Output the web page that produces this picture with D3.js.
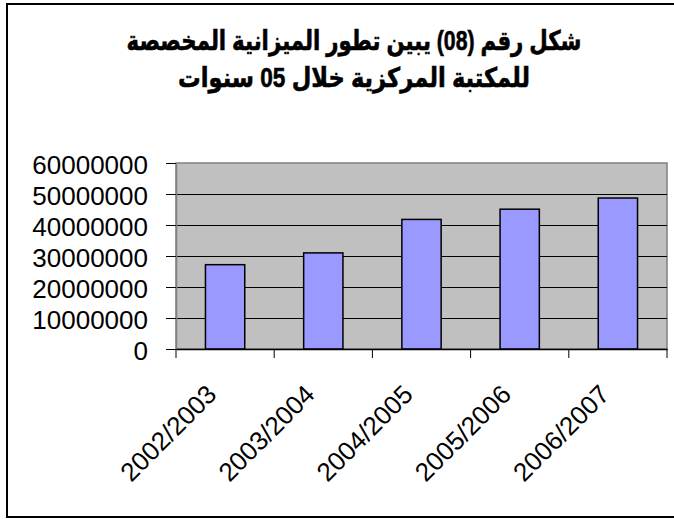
<!DOCTYPE html>
<html>
<head>
<meta charset="utf-8">
<script src="https://cdn.jsdelivr.net/npm/d3@7"></script>
<style>
  html, body { margin: 0; padding: 0; background: #fff; }
  svg { display: block; }
  text { font-family: Arial, "Liberation Sans", "DejaVu Sans", sans-serif; fill: #000; }
</style>
</head>
<body>
<svg id="chart" width="674" height="519"></svg>
<script>
// ---- data ----
const titleLines = ["شكل رقم (08) يبين تطور الميزانية المخصصة", "للمكتبة المركزية خلال 05 سنوات"];
const categories = ["2002/2003", "2003/2004", "2004/2005", "2005/2006", "2006/2007"];
const budgets = [27200000, 31000000, 41800000, 45100000, 48700000];
const yTicks = [0, 10000000, 20000000, 30000000, 40000000, 50000000, 60000000];

// ---- layout ----
const plot = { left: 176, right: 667, top: 163, bottom: 349 };
const svg = d3.select("#chart");

// outer frame (right side runs off the picture)
svg.append("rect")
  .attr("x", 7).attr("y", 4).attr("width", 720).attr("height", 513)
  .attr("fill", "#fff").attr("stroke", "#000").attr("stroke-width", 2);

// title
const titleG = svg.append("g");
const titleY = [50, 87];
const titleW = [455, 352];
titleLines.forEach((t, i) => {
  const tx = titleG.append("text")
    .attr("text-anchor", "middle")
    .attr("direction", "rtl")
    .attr("font-weight", "bold")
    .attr("font-size", 27)
    .attr("stroke", "#000").attr("stroke-width", 0.6)
    .text(t);
  const w = tx.node().getComputedTextLength() || 1;
  const s = titleW[i] / w;
  tx.attr("transform", `translate(354,${titleY[i]}) scale(${s},1)`);
});

// scales
const x = d3.scaleBand().domain(categories).range([plot.left, plot.right]).paddingInner(0).paddingOuter(0);
const y = d3.scaleLinear().domain([0, 60000000]).range([plot.bottom, plot.top]);

// plot background
svg.append("rect")
  .attr("x", plot.left).attr("y", plot.top)
  .attr("width", plot.right - plot.left).attr("height", plot.bottom - plot.top)
  .attr("fill", "#C0C0C0").attr("stroke", "#808080").attr("stroke-width", 1.5);

// gridlines
svg.append("g").selectAll("line").data(yTicks.filter(d => d > 0 && d < 60000000)).join("line")
  .attr("x1", plot.left).attr("x2", plot.right)
  .attr("y1", d => Math.round(y(d)) + 0.5).attr("y2", d => Math.round(y(d)) + 0.5)
  .attr("stroke", "#000").attr("stroke-width", 1);

// bars
const bw = x.bandwidth() * 0.4;
svg.append("g").selectAll("rect").data(budgets).join("rect")
  .attr("x", (d, i) => x(categories[i]) + (x.bandwidth() - bw) / 2)
  .attr("y", d => y(d))
  .attr("width", bw)
  .attr("height", d => y(0) - y(d))
  .attr("fill", "#9999FF").attr("stroke", "#000").attr("stroke-width", 1.5);

// y axis
const yAxis = svg.append("g").attr("transform", `translate(${plot.left},0)`)
  .call(d3.axisLeft(y).tickValues(yTicks).tickSize(10).tickSizeOuter(0).tickPadding(0).tickFormat(d3.format("d")));
yAxis.select(".domain").attr("stroke", "#808080").attr("stroke-width", 1.5);
yAxis.selectAll(".tick line").attr("stroke", "#000");
yAxis.selectAll(".tick text")
  .attr("font-size", 26).attr("font-family", null)
  .attr("x", -28).attr("dy", null)
  .attr("text-anchor", "end").attr("dominant-baseline", "central")
  .attr("transform", "translate(0,1)");

// x axis
const xAxis = svg.append("g").attr("transform", `translate(0,${plot.bottom})`)
  .call(d3.axisBottom(x).tickSize(0).tickSizeOuter(0).tickFormat(d => d));
xAxis.select(".domain").attr("stroke", "#000").attr("stroke-width", 1.5);
// category boundary ticks
const bounds = categories.map(c => x(c)).concat([plot.right]);
xAxis.append("g").selectAll("line").data(bounds).join("line")
  .attr("x1", d => d).attr("x2", d => d).attr("y1", 0).attr("y2", 9)
  .attr("stroke", "#000").attr("stroke-width", 1);
xAxis.selectAll(".tick text")
  .attr("font-size", 26).attr("font-family", null)
  .attr("y", null).attr("dy", null)
  .attr("text-anchor", "end")
  .attr("transform", "translate(-7,47) rotate(-45)");
</script>
</body>
</html>
